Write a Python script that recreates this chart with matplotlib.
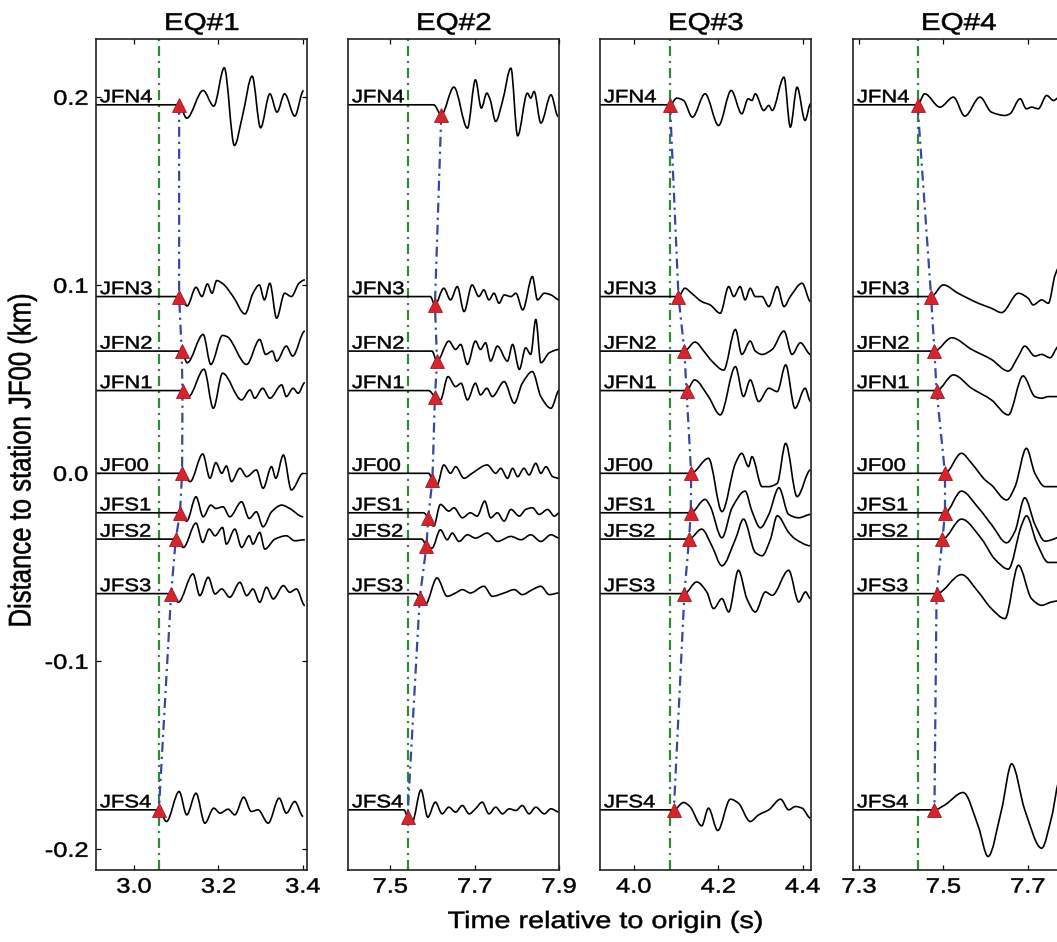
import numpy as np
import matplotlib.pyplot as plt
from matplotlib.path import Path
from matplotlib.patches import PathPatch
from matplotlib.patheffects import AbstractPathEffect
from matplotlib.transforms import Affine2D

plt.rcParams['font.family'] = ['Liberation Sans', 'DejaVu Sans']

stations = ['JFN4', 'JFN3', 'JFN2', 'JFN1', 'JF00', 'JFS1', 'JFS2', 'JFS3', 'JFS4']
distances = [0.196, 0.094, 0.065, 0.044, 0.000, -0.021, -0.035, -0.064, -0.179]

titles = ['EQ#1', 'EQ#2', 'EQ#3', 'EQ#4']
xlims = [(2.91, 3.41), (7.40, 7.90), (3.92, 4.42), (7.286, 7.786)]
xticks = [[3.0, 3.2, 3.4], [7.5, 7.7, 7.9], [4.0, 4.2, 4.4], [7.3, 7.5, 7.7]]
xticklabels = [['3.0', '3.2', '3.4'], ['7.5', '7.7', '7.9'],
               ['4.0', '4.2', '4.4'], ['7.3', '7.5', '7.7']]
yticks = [-0.2, -0.1, 0.0, 0.1, 0.2]
yticklabels = ['-0.2', '-0.1', '0.0', '0.1', '0.2']

# theoretical onset (green) and picked P arrivals (red triangles), seconds
origin_marks = [3.059, 7.541, 4.086, 7.439]
eq1_picks = [3.107, 3.107, 3.113, 3.115, 3.114, 3.109, 3.099, 3.088, 3.059]
eq2_picks = [7.621, 7.606, 7.611, 7.606, 7.600, 7.590, 7.586, 7.570, 7.541]
eq3_picks = [4.086, 4.106, 4.120, 4.125, 4.136, 4.135, 4.131, 4.120, 4.095]
eq4_picks = [7.439, 7.471, 7.479, 7.484, 7.504, 7.504, 7.498, 7.484, 7.479]

# waveform turning points: time (s) and normalised amplitude
eq1_times = [
    [3.107, 3.125, 3.164, 3.189, 3.214, 3.238, 3.257, 3.280, 3.300, 3.322, 3.339, 3.357, 3.381, 3.402],
    [3.107, 3.126, 3.147, 3.161, 3.174, 3.185, 3.196, 3.211, 3.235, 3.263, 3.282, 3.297, 3.309, 3.322, 3.338, 3.357, 3.373, 3.391, 3.405],
    [3.113, 3.126, 3.164, 3.182, 3.210, 3.221, 3.267, 3.298, 3.312, 3.328, 3.338, 3.361, 3.376, 3.405],
    [3.115, 3.129, 3.166, 3.188, 3.210, 3.255, 3.275, 3.286, 3.305, 3.322, 3.350, 3.361, 3.377, 3.389, 3.405],
    [3.114, 3.133, 3.163, 3.180, 3.194, 3.208, 3.219, 3.231, 3.251, 3.267, 3.290, 3.306, 3.326, 3.336, 3.354, 3.373, 3.401],
    [3.109, 3.125, 3.147, 3.164, 3.182, 3.194, 3.211, 3.227, 3.255, 3.273, 3.290, 3.306, 3.326, 3.350, 3.369, 3.401],
    [3.099, 3.117, 3.147, 3.163, 3.178, 3.192, 3.210, 3.219, 3.239, 3.255, 3.273, 3.282, 3.298, 3.310, 3.334, 3.361, 3.381, 3.405],
    [3.088, 3.105, 3.140, 3.156, 3.176, 3.192, 3.208, 3.227, 3.251, 3.267, 3.282, 3.298, 3.314, 3.330, 3.354, 3.369, 3.385, 3.405],
    [3.059, 3.077, 3.107, 3.125, 3.147, 3.168, 3.189, 3.204, 3.223, 3.239, 3.260, 3.278, 3.294, 3.318, 3.344, 3.361, 3.381, 3.401],
]
eq1_amps = [
    [0, -40, 43, -4, 111, -122, -34, 86, -69, 33, -22, 33, -34, 43],
    [0, -28, 28, 0, 38, 10, 48, 38, 0, -52, 10, 35, -10, 40, -65, 10, 0, 40, 50],
    [0, -35, 50, -40, 47, 43, -40, 35, -10, 0, -30, 15, -15, 60],
    [0, -18, 64, -53, 52, -28, 2, -23, 7, -23, 17, -18, 7, -8, 24],
    [0, -25, 58, -15, 32, 0, 22, -25, 15, -10, 10, -45, 20, -15, 55, -50, 0],
    [0, -25, 48, -12, 23, 13, 18, -12, 33, -17, 3, -42, 3, 23, 13, -12],
    [0, -25, 48, -10, 30, 10, 35, -15, 30, -25, 10, -15, 20, -30, 0, 10, -5, -2],
    [0, -26, 59, -6, 49, -1, 14, -11, 34, -6, 14, -26, 19, -16, 24, 4, 14, -36],
    [0, -35, 55, -15, 50, -40, 5, -10, 2, -15, 38, -5, 0, -40, 35, -10, 25, -20],
]

eq2_times = [
    [7.603, 7.621, 7.651, 7.683, 7.702, 7.716, 7.729, 7.737, 7.750, 7.766, 7.786, 7.802, 7.825, 7.833, 7.841, 7.857, 7.881, 7.898],
    [7.595, 7.606, 7.627, 7.643, 7.659, 7.675, 7.694, 7.710, 7.722, 7.734, 7.746, 7.758, 7.770, 7.786, 7.798, 7.814, 7.837, 7.849, 7.865, 7.881, 7.901],
    [7.599, 7.611, 7.639, 7.655, 7.667, 7.683, 7.702, 7.714, 7.726, 7.738, 7.754, 7.778, 7.790, 7.806, 7.821, 7.833, 7.845, 7.857, 7.877, 7.901],
    [7.591, 7.606, 7.619, 7.637, 7.655, 7.668, 7.683, 7.702, 7.714, 7.729, 7.742, 7.770, 7.794, 7.813, 7.837, 7.857, 7.881, 7.901],
    [7.591, 7.600, 7.611, 7.627, 7.643, 7.655, 7.675, 7.694, 7.730, 7.750, 7.762, 7.778, 7.790, 7.802, 7.817, 7.829, 7.845, 7.857, 7.869, 7.885, 7.901],
    [7.579, 7.590, 7.603, 7.619, 7.639, 7.651, 7.671, 7.690, 7.706, 7.724, 7.738, 7.754, 7.770, 7.786, 7.806, 7.821, 7.837, 7.853, 7.873, 7.889, 7.901],
    [7.575, 7.586, 7.599, 7.619, 7.635, 7.647, 7.663, 7.683, 7.702, 7.730, 7.754, 7.786, 7.810, 7.833, 7.857, 7.881, 7.901],
    [7.560, 7.570, 7.583, 7.611, 7.635, 7.655, 7.671, 7.690, 7.722, 7.742, 7.770, 7.794, 7.813, 7.837, 7.857, 7.877, 7.901],
    [7.532, 7.541, 7.552, 7.573, 7.589, 7.607, 7.623, 7.639, 7.655, 7.671, 7.687, 7.702, 7.718, 7.734, 7.750, 7.766, 7.782, 7.798, 7.813, 7.829, 7.845, 7.865, 7.881, 7.901],
]
eq2_amps = [
    [0, -30, 53, -70, 75, -10, 35, 15, -50, 10, 110, -93, 35, 20, 40, -55, 30, -35],
    [0, -25, 25, -10, 30, -45, 35, 0, 20, -10, 10, -20, 5, 0, 10, -40, 60, -10, 10, 5, -10],
    [0, -30, 30, 5, 20, -40, 30, 5, 25, -30, 15, -30, 20, -55, 10, -10, 95, -35, -5, 5],
    [0, -18, -28, 42, 12, 22, -28, 22, -13, 7, -18, 27, -38, 22, 57, -18, -53, 2],
    [0, -20, -35, 25, 0, 20, -15, 0, 25, 0, 15, -15, 15, -10, 15, -5, 30, 0, 20, -10, -15],
    [0, -15, -40, 25, 5, 15, -15, 0, -10, 35, -15, 0, -25, 10, -10, 10, 15, -5, 10, -10, 0],
    [0, -20, -27, 28, -2, 18, -7, 13, 3, 18, -7, 8, -2, 13, -7, 13, 3],
    [0, -13, -33, 47, -8, 2, 12, 2, 22, -8, 2, 12, -3, 12, 22, -3, 2],
    [0, -20, -37, 60, -22, 23, -12, 8, -7, 13, -12, 3, 23, -12, 8, -12, 3, -2, 13, -12, 8, -12, 3, -7],
]

eq3_times = [
    [4.086, 4.102, 4.118, 4.139, 4.169, 4.201, 4.231, 4.256, 4.271, 4.280, 4.288, 4.308, 4.320, 4.328, 4.356, 4.371, 4.387, 4.406, 4.419],
    [4.106, 4.121, 4.137, 4.161, 4.181, 4.205, 4.225, 4.237, 4.252, 4.264, 4.276, 4.288, 4.304, 4.320, 4.340, 4.356, 4.371, 4.399, 4.419],
    [4.120, 4.145, 4.169, 4.185, 4.213, 4.241, 4.256, 4.276, 4.288, 4.304, 4.328, 4.356, 4.375, 4.395, 4.419],
    [4.125, 4.144, 4.177, 4.205, 4.241, 4.260, 4.276, 4.296, 4.320, 4.340, 4.360, 4.382, 4.406, 4.419],
    [4.136, 4.177, 4.209, 4.241, 4.256, 4.272, 4.280, 4.304, 4.320, 4.340, 4.360, 4.387, 4.419],
    [4.135, 4.169, 4.181, 4.209, 4.233, 4.264, 4.280, 4.300, 4.320, 4.344, 4.367, 4.391, 4.419],
    [4.131, 4.161, 4.185, 4.209, 4.241, 4.260, 4.288, 4.304, 4.324, 4.340, 4.367, 4.383, 4.419],
    [4.120, 4.149, 4.173, 4.189, 4.209, 4.225, 4.248, 4.268, 4.288, 4.312, 4.328, 4.367, 4.391, 4.407, 4.419],
    [4.095, 4.118, 4.133, 4.161, 4.177, 4.199, 4.229, 4.248, 4.276, 4.296, 4.320, 4.348, 4.367, 4.383, 4.399, 4.419],
]
eq3_amps = [
    [0, 20, 13, -37, 33, -62, 43, -27, 18, 13, 33, -17, -2, -17, 83, -67, 53, -47, 3],
    [0, 25, 10, -15, -25, -50, 30, 0, 30, -10, 25, 0, 0, -30, 30, -30, 0, 40, -15],
    [0, 27, -5, -30, -57, 65, -10, 30, 0, -10, 5, 60, -10, 25, -10],
    [0, 32, -18, -73, 72, -18, 32, -33, 7, -3, 77, -53, 7, -33],
    [0, 45, -115, 30, 60, 20, 50, -40, -40, -30, 90, -70, 10],
    [0, 40, 20, -75, 15, 65, 5, -45, -5, 75, -5, -15, -5],
    [0, 30, -20, -80, 0, 60, -40, -50, 0, 70, 20, 0, -20],
    [0, 35, 5, -45, -15, -55, 70, -15, -55, 5, -5, 70, -25, 5, -15],
    [0, 22, 10, -48, 5, -62, 32, 20, -35, -15, 0, 32, 0, 10, 5, -25],
]

eq4_times = [
    [7.439, 7.456, 7.492, 7.524, 7.551, 7.587, 7.614, 7.646, 7.658, 7.682, 7.697, 7.709, 7.725, 7.745, 7.761, 7.780],
    [7.471, 7.500, 7.535, 7.583, 7.614, 7.638, 7.678, 7.701, 7.713, 7.733, 7.749, 7.765, 7.780],
    [7.479, 7.520, 7.567, 7.614, 7.654, 7.678, 7.693, 7.717, 7.733, 7.753, 7.769, 7.784],
    [7.484, 7.524, 7.567, 7.614, 7.654, 7.689, 7.717, 7.733, 7.749, 7.769, 7.784],
    [7.504, 7.543, 7.567, 7.599, 7.614, 7.650, 7.670, 7.697, 7.717, 7.741, 7.769, 7.784],
    [7.504, 7.543, 7.583, 7.614, 7.650, 7.670, 7.693, 7.717, 7.741, 7.769, 7.784],
    [7.498, 7.543, 7.591, 7.622, 7.654, 7.685, 7.697, 7.721, 7.749, 7.769, 7.784],
    [7.484, 7.543, 7.583, 7.614, 7.646, 7.678, 7.709, 7.733, 7.757, 7.784],
    [7.479, 7.504, 7.547, 7.583, 7.606, 7.638, 7.662, 7.693, 7.733, 7.757, 7.776],
]
eq4_amps = [
    [0, 33, -7, 23, -34, 23, -22, -32, -27, 18, -12, -7, -12, 28, 13, 28],
    [0, 35, 10, -20, -35, -48, 10, -5, -25, -10, -20, 65, 100],
    [0, 40, 5, -25, -60, -15, 15, -15, -10, -20, 10, 30],
    [0, 47, 7, -28, -73, 44, -18, -23, -18, -18, -10],
    [0, 60, 30, -20, -35, -80, -40, 75, 0, -40, -40, -30],
    [0, 65, 15, -35, -90, -55, 45, -35, -85, -75, -60],
    [0, 60, 0, -60, -90, 40, 70, -10, -70, -70, -60],
    [0, 57, 5, -45, -75, 85, -15, -35, -25, -20],
    [0, 15, 52, -50, -140, 0, 138, 0, -115, -20, 90],
]

AMP_SCALE = 1.773e-4   # km of plot offset per amplitude unit

GREEN = '#2f8a3c'
BLUE = '#3548a6'
RED = '#d8232a'
DASHDOT = (0, (4.5, 2.2, 1.0, 2.2))


class Widen(AbstractPathEffect):
    """Draw text glyphs stretched along x (and optionally y) about an anchor."""

    def __init__(self, sx=1.22, sy=1.0, anchor=0.0, weight=0.35):
        super().__init__()
        self.sx, self.sy, self.anchor, self.weight = sx, sy, anchor, weight

    def draw_path(self, renderer, gc, tpath, affine, rgbFace=None):
        v = tpath.vertices
        if len(v):
            px = v[:, 0].min() + self.anchor * (v[:, 0].max() - v[:, 0].min())
            py = 0.5 * (v[:, 1].min() + v[:, 1].max())
        else:
            px = py = 0.0
        st = Affine2D().translate(-px, -py).scale(self.sx, self.sy).translate(px, py)
        gc0 = renderer.new_gc()
        gc0.copy_properties(gc)
        gc0.set_linewidth(self.weight)
        if rgbFace is not None:
            gc0.set_foreground(rgbFace)
        renderer.draw_path(gc0, tpath, st + affine, rgbFace)
        gc0.restore()


def trace_path(t, y):
    # piecewise cubic through the turning points, flat tangents at extrema
    t = np.asarray(t, float)
    y = np.asarray(y, float)
    d = np.diff(y) / np.diff(t)
    m = np.zeros_like(y)
    for k in range(1, len(y) - 1):
        if d[k - 1] * d[k] > 0:
            m[k] = 2.0 / (1.0 / d[k - 1] + 1.0 / d[k])
    verts = [(t[0], y[0])]
    codes = [Path.MOVETO]
    for k in range(len(t) - 1):
        h = t[k + 1] - t[k]
        verts += [(t[k] + h / 3, y[k] + m[k] * h / 3),
                  (t[k + 1] - h / 3, y[k + 1] - m[k + 1] * h / 3),
                  (t[k + 1], y[k + 1])]
        codes += [Path.CURVE4] * 3
    return Path(verts, codes)


events = [
    (eq1_picks, eq1_times, eq1_amps),
    (eq2_picks, eq2_times, eq2_amps),
    (eq3_picks, eq3_times, eq3_amps),
    (eq4_picks, eq4_times, eq4_amps),
]

W, H = 1057, 942
fig = plt.figure(figsize=(W / 100, H / 100), dpi=100)
lefts = [96, 348, 600, 853]

for i, (picks, times, amps) in enumerate(events):
    ax = fig.add_axes([lefts[i] / W, 1 - 870 / H, 211 / W, 831 / H])
    x0, x1 = xlims[i]
    ax.set_xlim(x0, x1)
    ax.set_ylim(-0.211, 0.231)

    ax.axvline(origin_marks[i], color=GREEN, lw=1.6, ls=DASHDOT, zorder=1.5)

    pick_y = []
    for k, name in enumerate(stations):
        y = distances[k] + AMP_SCALE * np.asarray(amps[k], float)
        tt = [x0] + list(times[k])
        yy = [y[0]] + list(y)
        ax.add_patch(PathPatch(trace_path(tt, yy), fill=False, ec='black',
                               lw=1.2, zorder=2, joinstyle='round'))
        pick_y.append(np.interp(picks[k], times[k], y))
        lab = ax.annotate(name, xy=(0, distances[k]), xycoords=ax.get_yaxis_transform(),
                          xytext=(2.8, 1.8), textcoords='offset points',
                          ha='left', va='baseline', fontsize=13)
        lab.set_path_effects([Widen(anchor=0.0)])

    ax.plot(picks, pick_y, color=BLUE, lw=1.6, ls=DASHDOT, zorder=3)
    ax.plot(picks, pick_y, ls='none', marker='^', ms=9.5, mfc=RED,
            mec='#9b1c2a', mew=0.6, zorder=4)

    ax.set_xticks(xticks[i])
    ax.set_xticklabels(xticklabels[i], fontsize=15)
    if i == 0:
        ax.set_yticks(yticks)
        ax.set_yticklabels(yticklabels, fontsize=15)
        ax.tick_params(axis='y', direction='in', left=True, right=True,
                       length=3.5, width=0.9, pad=5.5)
        for lab in ax.get_yticklabels():
            lab.set_path_effects([Widen(anchor=1.0)])
    else:
        ax.set_yticks([])
    ax.tick_params(axis='x', direction='in', top=True, bottom=True,
                   length=3.5, width=0.9, pad=5.5)
    for lab in ax.get_xticklabels():
        lab.set_path_effects([Widen(anchor=0.5)])

    for sp in ax.spines.values():
        sp.set_linewidth(1.2)
        sp.set_color('#222222')

    ttl = ax.set_title(titles[i], fontsize=17.5, pad=6.5)
    ttl.set_path_effects([Widen(anchor=0.5)])

xl = fig.text(606 / W, 1 - 928 / H, 'Time relative to origin (s)', ha='center',
              va='baseline', fontsize=17)
xl.set_path_effects([Widen(anchor=0.5)])
yl = fig.text(22 / W, 1 - 460 / H, 'Distance to station JF00 (km)', ha='center',
              va='center', rotation=90, fontsize=18.5)
yl.set_path_effects([Widen(sx=1.0, sy=1.22)])

fig.savefig('out.png', dpi=100)
